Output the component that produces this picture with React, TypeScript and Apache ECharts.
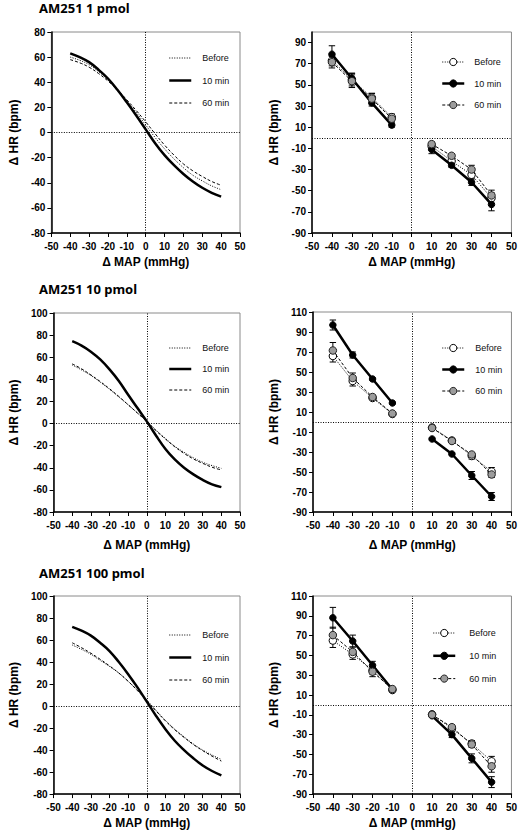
import React, { useEffect, useRef } from 'react';
import * as echarts from 'echarts';

// ---------- data ----------
const seriesNames = ['Before', '10 min', '60 min'];
const panelTitles = ['AM251 1 pmol', 'AM251 10 pmol', 'AM251 100 pmol'];
const xAxisName = 'Δ MAP (mmHg)';
const yAxisName = 'Δ HR (bpm)';
const xTickValues = [-50, -40, -30, -20, -10, 0, 10, 20, 30, 40, 50];
const yTicksA = [-80, -60, -40, -20, 0, 20, 40, 60, 80];
const yTicksB = [-90, -70, -50, -30, -10, 10, 30, 50, 70, 90];
const yTicksC = [-80, -60, -40, -20, 0, 20, 40, 60, 80, 100];
const yTicksD = [-90, -70, -50, -30, -10, 10, 30, 50, 70, 90, 110];

// fitted curves (left column)
const curveX = [-40, -35, -30, -25, -20, -15, -10, -5, 0, 5, 10, 15, 20, 25, 30, 35, 40];
const p1Before = [60, 57.5, 54, 48.5, 42, 34, 25, 16, 6, -4, -13, -21, -28, -34, -38.5, -42.5, -45.5];
const p1Min10 = [63, 60, 56, 50, 43, 34, 24, 13.5, 2.5, -8.5, -18, -26, -33, -39, -44, -48, -51];
const p1Min60 = [58, 55.5, 52, 47, 41, 34, 26, 17.5, 8.5, -1, -10, -18, -25, -30.5, -35, -39, -42];

const p3Before = [53, 48.5, 43.5, 37.5, 31, 24, 17, 9.5, 2, -6, -13.5, -20.5, -26, -31, -35, -38, -40.5];
const p3Min10 = [74.5, 70.5, 65, 58, 49, 38.5, 26, 14, 2, -11, -23, -32.5, -40, -46, -51, -55, -57.5];
const p3Min60 = [54, 49.5, 44, 38, 31.5, 24.5, 17, 9.5, 2, -6.5, -14, -21, -27, -32, -36, -39.5, -42];

const p5Before = [55.5, 51.5, 47, 41.5, 36, 30, 22.5, 14.5, 5.5, -4, -13, -21, -28, -34.5, -40, -44.5, -48.5];
const p5Min10 = [72, 68.5, 64, 57.5, 50, 40, 29, 17, 4, -9, -21, -31.5, -40, -47.5, -54, -59, -63];
const p5Min60 = [57.5, 53, 48, 42.5, 36.5, 30, 22.5, 14, 5, -4.5, -13.5, -21.5, -28.5, -35, -40.5, -45.5, -50];

// group means ± SEM (right column)
const pointX = [-40, -30, -20, -10, 10, 20, 30, 40];
const p2Before = [73, 55, 38, 19.5, -8, -22, -35, -57];
const p2BeforeErr = [5, 6, 4, 3, 3, 2, 3, 5];
const p2Min10 = [79, 56, 33, 12, -11, -26, -42, -63];
const p2Min10Err = [8, 5, 3, 2, 4, 2, 3, 6];
const p2Min60 = [71.5, 53.5, 37, 18, -6, -17, -30, -54.5];
const p2Min60Err = [5.5, 6, 5, 3, 2, 2, 4, 5];

const p4Before = [66, 41, 24, 8, -5.5, -18.5, -34, -49.5];
const p4BeforeErr = [6, 5, 2, 1.5, 1, 2, 3, 4];
const p4Min10 = [97, 67, 43, 19, -17, -32, -53.5, -74.5];
const p4Min10Err = [5, 3, 1, 1, 1, 1, 4, 4];
const p4Min60 = [71.5, 44, 25, 8.5, -6, -19, -32.5, -52.5];
const p4Min60Err = [8, 5, 2, 1.5, 1, 1, 2, 3];

const p6Before = [65, 51, 35, 15, -9.5, -24, -39, -57];
const p6BeforeErr = [7, 5, 4, 2, 1, 2, 3, 5];
const p6Min10 = [88, 64.5, 40, 15.5, -11, -30, -54, -78];
const p6Min10Err = [10.5, 6, 4, 2, 1, 3, 4.5, 5.5];
const p6Min60 = [70.5, 53.5, 33.5, 16, -10, -22.5, -40, -62];
const p6Min60Err = [8, 5, 5, 2, 1, 2, 3, 6];

// ---------- styles ----------
const FONT_AXIS = "'Liberation Sans', Arial, Helvetica, sans-serif";
const FONT_LEGEND = "'Liberation Sans Narrow', 'Arial Narrow', 'Liberation Sans', sans-serif";
const FONT_TITLE = "'Noto Sans', 'Open Sans', sans-serif";

const lineStyles: Record<string, any> = {
  'Before': { type: [1, 1.5], width: 1, color: '#000' },
  '10 min': { type: 'solid', width: 2.5, color: '#000' },
  '60 min': { type: [3, 2], width: 1, color: '#000' },
};
const markerStyles: Record<string, any> = {
  'Before': { color: '#fff', borderColor: '#000', borderWidth: 1 },
  '10 min': { color: '#000', borderColor: '#000', borderWidth: 1 },
  '60 min': { color: '#9c9c9c', borderColor: '#222', borderWidth: 1 },
};
const markerSizes: Record<string, number> = { 'Before': 7.5, '10 min': 6.5, '60 min': 7.5 };

type PanelCfg = {
  cx: number; cy: number;
  grid: [number, number, number, number]; // left, top, right, bottom (absolute)
  yMin: number; yMax: number; yTicks: number[];
  title?: string; titleTop?: number;
  legendX: number; legendY: number; legendRow: number; legendPad: number;
  xNameGap: number; yNameGap: number;
  curves?: number[][];
  points?: number[][]; errs?: number[][];
};

const panels: PanelCfg[] = [
  { cx: 0, cy: 0, grid: [38, 32, 240, 233], yMin: -80, yMax: 80, yTicks: yTicksA, title: panelTitles[0], titleTop: 1.5,
    legendX: 163, legendY: 53, legendRow: 22.5, legendPad: 6, xNameGap: 22, yNameGap: 25,
    curves: [p1Before, p1Min10, p1Min60] },
  { cx: 260, cy: 0, grid: [312, 32, 513, 233], yMin: -90, yMax: 100, yTicks: yTicksB,
    legendX: 436, legendY: 57, legendRow: 21.5, legendPad: 5, xNameGap: 21, yNameGap: 32,
    points: [p2Before, p2Min10, p2Min60], errs: [p2BeforeErr, p2Min10Err, p2Min60Err] },
  { cx: 0, cy: 278, grid: [38, 313, 240, 513], yMin: -80, yMax: 100, yTicks: yTicksC, title: panelTitles[1], titleTop: 282,
    legendX: 163, legendY: 343, legendRow: 21, legendPad: 6, xNameGap: 27, yNameGap: 25,
    curves: [p3Before, p3Min10, p3Min60] },
  { cx: 260, cy: 278, grid: [311, 312, 513, 513], yMin: -90, yMax: 110, yTicks: yTicksD,
    legendX: 436, legendY: 343, legendRow: 21.5, legendPad: 6, xNameGap: 27, yNameGap: 31,
    points: [p4Before, p4Min10, p4Min60], errs: [p4BeforeErr, p4Min10Err, p4Min60Err] },
  { cx: 0, cy: 556, grid: [38, 596, 240, 796], yMin: -80, yMax: 100, yTicks: yTicksC, title: panelTitles[2], titleTop: 566.5,
    legendX: 163, legendY: 630, legendRow: 22.5, legendPad: 6, xNameGap: 20, yNameGap: 25,
    curves: [p5Before, p5Min10, p5Min60] },
  { cx: 260, cy: 556, grid: [311, 596, 513, 796], yMin: -90, yMax: 110, yTicks: yTicksD,
    legendX: 427, legendY: 628, legendRow: 22.8, legendPad: 9, xNameGap: 23, yNameGap: 32,
    points: [p6Before, p6Min10, p6Min60], errs: [p6BeforeErr, p6Min10Err, p6Min60Err] },
];

const CELL_W = 260;
const CELL_H = 278;

const errorRender = (params: any, api: any) => {
  const x = api.value(0);
  const lo = api.value(1);
  const hi = api.value(2);
  const top = api.coord([x, hi]);
  const bot = api.coord([x, lo]);
  const w = 3.2;
  const st = { stroke: '#000', lineWidth: 1 };
  return {
    type: 'group',
    children: [
      { type: 'line', shape: { x1: top[0], y1: top[1], x2: bot[0], y2: bot[1] }, style: st },
      { type: 'line', shape: { x1: top[0] - w, y1: top[1], x2: top[0] + w, y2: top[1] }, style: st },
      { type: 'line', shape: { x1: bot[0] - w, y1: bot[1], x2: bot[0] + w, y2: bot[1] }, style: st },
    ],
  };
};

function buildOption(p: PanelCfg) {
  const [gl, gt, gr, gb] = p.grid;
  const isCurve = !!p.curves;
  const itemH = 9;
  const zeroLines = {
    silent: true,
    symbol: ['none', 'none'],
    label: { show: false },
    lineStyle: { type: [1, 1.5], width: 1, color: '#000' },
    data: [{ xAxis: 0 }, { yAxis: 0 }],
    z: 1,
  };

  const series: any[] = [];
  if (isCurve) {
    seriesNames.forEach((n, i) => {
      series.push({
        type: 'line', name: n, smooth: 0.4, symbol: 'none',
        data: curveX.map((x, j) => [x, p.curves![i][j]]),
        lineStyle: lineStyles[n], z: n === '10 min' ? 4 : 3,
        markLine: i === 0 ? zeroLines : undefined,
      });
    });
  } else {
    seriesNames.forEach((n, i) => {
      const vals = p.points![i];
      const data: any[] = [];
      pointX.forEach((x, j) => {
        if (j === 4) data.push([0, '-']);
        data.push([x, vals[j]]);
      });
      series.push({
        type: 'line', name: n, symbol: 'circle', symbolSize: markerSizes[n],
        data, itemStyle: markerStyles[n], lineStyle: lineStyles[n], z: 3 + i,
        markLine: i === 0 ? zeroLines : undefined,
      });
    });
    seriesNames.forEach((n, i) => {
      const vals = p.points![i];
      const err = p.errs![i];
      series.push({
        type: 'custom', name: n, renderItem: errorRender, z: 2,
        encode: { x: 0, y: [1, 2] },
        data: pointX.map((x, j) => [x, vals[j] - err[j], vals[j] + err[j]]),
      });
    });
  }

  const legendData = seriesNames.map((n) => ({
    name: n,
    lineStyle: lineStyles[n],
    itemStyle: isCurve ? { opacity: 0 } : markerStyles[n],
  }));

  const axisLabelBase = { color: '#000', fontFamily: FONT_AXIS, fontWeight: 'bold', fontSize: 10 };
  const nameStyle = { color: '#000', fontFamily: FONT_AXIS, fontWeight: 'bold', fontSize: 12 };
  const yTicks = p.yTicks;

  const option: any = {
    animation: false,
    backgroundColor: 'transparent',
    title: p.title
      ? {
          text: p.title, left: 39 - p.cx, top: (p.titleTop as number) - p.cy, padding: 0,
          textStyle: { fontFamily: FONT_TITLE, fontWeight: 'bold', fontSize: 13, color: '#000' },
        }
      : undefined,
    grid: {
      left: gl - p.cx, top: gt - p.cy, width: gr - gl, height: gb - gt,
      show: true, borderColor: '#8a8a8a', borderWidth: 1, backgroundColor: 'transparent',
    },
    legend: {
      orient: 'vertical', left: p.legendX - p.cx, top: p.legendY - itemH / 2 - p.cy,
      itemWidth: 22, itemHeight: itemH, itemGap: p.legendRow - itemH,
      selectedMode: false,
      data: legendData,
      textStyle: { fontFamily: FONT_LEGEND, fontSize: 9, color: '#111', padding: [0, 0, 0, p.legendPad] },
    },
    xAxis: {
      type: 'value', min: -50, max: 50, interval: 10,
      name: xAxisName, nameLocation: 'middle', nameGap: p.xNameGap, nameTextStyle: nameStyle,
      axisLine: { onZero: false, lineStyle: { color: '#000', width: 1.5 } },
      axisTick: { show: true, length: 4, lineStyle: { color: '#000', width: 1 }, customValues: xTickValues },
      axisLabel: { ...axisLabelBase, margin: 8, customValues: xTickValues },
      splitLine: { show: false },
    },
    yAxis: {
      type: 'value', min: p.yMin, max: p.yMax, interval: 20,
      name: yAxisName, nameLocation: 'middle', nameGap: p.yNameGap, nameTextStyle: nameStyle,
      axisLine: { onZero: false, lineStyle: { color: '#000', width: 1.5 } },
      axisTick: { show: true, length: 4, lineStyle: { color: '#000', width: 1 }, customValues: yTicks },
      axisLabel: {
        ...axisLabelBase, margin: 6, customValues: yTicks,
        formatter: (v: number) => (yTicks.indexOf(v) >= 0 ? String(v) : ''),
      },
      splitLine: { show: false },
    },
    series,
  };
  return option;
}

function Panel({ cfg }: { cfg: PanelCfg }) {
  const ref = useRef<HTMLDivElement>(null);
  useEffect(() => {
    if (!ref.current) return;
    const chart = echarts.init(ref.current, null, { renderer: 'svg' });
    chart.setOption(buildOption(cfg));
    return () => chart.dispose();
  }, [cfg]);
  return (
    <div
      ref={ref}
      style={{ position: 'absolute', left: cfg.cx, top: cfg.cy, width: CELL_W, height: CELL_H }}
    />
  );
}

export default function App() {
  return (
    <div style={{ position: 'fixed', left: 0, top: 0, width: 520, height: 834, background: '#fff', overflow: 'hidden' }}>
      {panels.map((p, i) => (
        <Panel key={i} cfg={p} />
      ))}
    </div>
  );
}
